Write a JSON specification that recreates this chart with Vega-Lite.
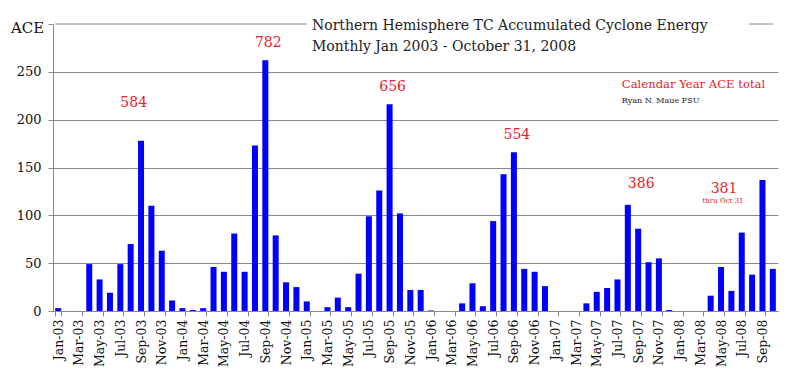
{
  "$schema": "https://vega.github.io/schema/vega-lite/v6.json",
  "width": 725,
  "height": 287,
  "autosize": "none",
  "padding": {"top": 24, "left": 53, "right": 22, "bottom": 69},
  "background": "white",
  "config": {"view": {"stroke": null}, "font": "DejaVu Serif"},
  "title": {
    "text": ["Northern Hemisphere TC Accumulated Cyclone Energy", "Monthly Jan 2003 - October 31, 2008"],
    "anchor": "start",
    "frame": "group",
    "orient": "top",
    "baseline": "middle",
    "offset": 0,
    "dx": 259,
    "dy": 41,
    "font": "DejaVu Serif",
    "fontSize": 14,
    "fontWeight": "normal",
    "color": "#222",
    "lineHeight": 21
  },
  "layer": [
    {
      "data": {"values": [
        {"m":"Jan-03","ace":3},{"m":"Feb-03","ace":0},{"m":"Mar-03","ace":0},{"m":"Apr-03","ace":49},{"m":"May-03","ace":33},{"m":"Jun-03","ace":19},{"m":"Jul-03","ace":49},{"m":"Aug-03","ace":70},{"m":"Sep-03","ace":178},{"m":"Oct-03","ace":110},{"m":"Nov-03","ace":63},{"m":"Dec-03","ace":11},
        {"m":"Jan-04","ace":3},{"m":"Feb-04","ace":1},{"m":"Mar-04","ace":3},{"m":"Apr-04","ace":46},{"m":"May-04","ace":41},{"m":"Jun-04","ace":81},{"m":"Jul-04","ace":41},{"m":"Aug-04","ace":173},{"m":"Sep-04","ace":262},{"m":"Oct-04","ace":79},{"m":"Nov-04","ace":30},{"m":"Dec-04","ace":25},
        {"m":"Jan-05","ace":10},{"m":"Feb-05","ace":0},{"m":"Mar-05","ace":4},{"m":"Apr-05","ace":14},{"m":"May-05","ace":4},{"m":"Jun-05","ace":39},{"m":"Jul-05","ace":99},{"m":"Aug-05","ace":126},{"m":"Sep-05","ace":216},{"m":"Oct-05","ace":102},{"m":"Nov-05","ace":22},{"m":"Dec-05","ace":22},
        {"m":"Jan-06","ace":0.5},{"m":"Feb-06","ace":0},{"m":"Mar-06","ace":0},{"m":"Apr-06","ace":8},{"m":"May-06","ace":29},{"m":"Jun-06","ace":5},{"m":"Jul-06","ace":94},{"m":"Aug-06","ace":143},{"m":"Sep-06","ace":166},{"m":"Oct-06","ace":44},{"m":"Nov-06","ace":41},{"m":"Dec-06","ace":26},
        {"m":"Jan-07","ace":0},{"m":"Feb-07","ace":0},{"m":"Mar-07","ace":0},{"m":"Apr-07","ace":8},{"m":"May-07","ace":20},{"m":"Jun-07","ace":24},{"m":"Jul-07","ace":33},{"m":"Aug-07","ace":111},{"m":"Sep-07","ace":86},{"m":"Oct-07","ace":51},{"m":"Nov-07","ace":55},{"m":"Dec-07","ace":1},
        {"m":"Jan-08","ace":0},{"m":"Feb-08","ace":0},{"m":"Mar-08","ace":0},{"m":"Apr-08","ace":16},{"m":"May-08","ace":46},{"m":"Jun-08","ace":21},{"m":"Jul-08","ace":82},{"m":"Aug-08","ace":38},{"m":"Sep-08","ace":137},{"m":"Oct-08","ace":44}
      ]},
      "mark": {"type": "bar", "color": "#0000ff"},
      "encoding": {
        "x": {
          "field": "m", "type": "ordinal", "sort": null,
          "scale": {"paddingInner": 0.42, "paddingOuter": 0.21},
          "axis": {
            "title": null,
            "values": ["Jan-03","Mar-03","May-03","Jul-03","Sep-03","Nov-03","Jan-04","Mar-04","May-04","Jul-04","Sep-04","Nov-04","Jan-05","Mar-05","May-05","Jul-05","Sep-05","Nov-05","Jan-06","Mar-06","May-06","Jul-06","Sep-06","Nov-06","Jan-07","Mar-07","May-07","Jul-07","Sep-07","Nov-07","Jan-08","Mar-08","May-08","Jul-08","Sep-08"],
            "labelAngle": -90,
            "labelAlign": "right",
            "labelBaseline": "middle",
            "labelFont": "DejaVu Serif",
            "labelFontSize": 12.5,
            "labelColor": "#111",
            "labelPadding": 3,
            "tickBand": "extent",
            "tickSize": 5,
            "tickColor": "#888",
            "domainColor": "#888",
            "grid": false
          }
        },
        "y": {
          "field": "ace", "type": "quantitative",
          "scale": {"domain": [0, 300], "nice": false},
          "axis": {
            "title": "ACE",
            "titleAngle": 0,
            "titleAlign": "center",
            "titleBaseline": "middle",
            "titleX": -26,
            "titleY": 3,
            "titleFont": "DejaVu Serif",
            "titleFontSize": 15,
            "titleFontWeight": "normal",
            "titleColor": "#111",
            "values": [0, 50, 100, 150, 200, 250, 300],
            "labelExpr": "datum.value == 300 ? '' : datum.label",
            "labelFont": "DejaVu Serif",
            "labelFontSize": 13,
            "labelColor": "#111",
            "labelPadding": 7,
            "tickSize": 5,
            "tickColor": "#888",
            "domainColor": "#888",
            "grid": true,
            "gridColor": "#888",
            "gridOpacity": {"condition": {"test": "datum.value == 300", "value": 0}, "value": 1}
          }
        }
      }
    },
    {
      "data": {"values": [{"a": "Jan-03", "b": "Jan-05"}, {"a": "Aug-08", "b": "Oct-08"}]},
      "mark": {"type": "rule", "color": "#888", "strokeWidth": 1},
      "encoding": {
        "x": {"field": "a", "type": "ordinal", "sort": null, "bandPosition": 0},
        "x2": {"field": "b"},
        "y": {"datum": 300}
      }
    },
    {
      "data": {"values": [
        {"t": "584", "m": "Aug-03", "v": 217},
        {"t": "782", "m": "Sep-04", "v": 280},
        {"t": "656", "m": "Sep-05", "v": 234},
        {"t": "554", "m": "Sep-06", "v": 184},
        {"t": "386", "m": "Sep-07", "v": 133},
        {"t": "381", "m": "May-08", "v": 128}
      ]},
      "mark": {"type": "text", "color": "#e8202a", "font": "DejaVu Serif", "fontSize": 14, "align": "center", "baseline": "middle", "dx": 3},
      "encoding": {
        "x": {"field": "m", "type": "ordinal", "sort": null},
        "y": {"field": "v", "type": "quantitative"},
        "text": {"field": "t"}
      }
    },
    {
      "data": {"values": [{"t": "thru Oct 31", "m": "May-08", "v": 115}]},
      "mark": {"type": "text", "color": "#e8202a", "font": "DejaVu Serif", "fontSize": 7, "align": "center", "baseline": "middle", "dx": 2},
      "encoding": {
        "x": {"field": "m", "type": "ordinal", "sort": null},
        "y": {"field": "v", "type": "quantitative"},
        "text": {"field": "t"}
      }
    },
    {
      "data": {"values": [{"t": "Calendar Year ACE total", "m": "Aug-07", "v": 236}]},
      "mark": {"type": "text", "color": "#e8202a", "font": "DejaVu Serif", "fontSize": 11.6, "align": "left", "baseline": "middle", "dx": -6},
      "encoding": {
        "x": {"field": "m", "type": "ordinal", "sort": null},
        "y": {"field": "v", "type": "quantitative"},
        "text": {"field": "t"}
      }
    },
    {
      "data": {"values": [{"t": "Ryan N. Maue FSU", "m": "Aug-07", "v": 220}]},
      "mark": {"type": "text", "color": "#222", "font": "DejaVu Serif", "fontSize": 8, "align": "left", "baseline": "middle", "dx": -6},
      "encoding": {
        "x": {"field": "m", "type": "ordinal", "sort": null},
        "y": {"field": "v", "type": "quantitative"},
        "text": {"field": "t"}
      }
    }
  ]
}
